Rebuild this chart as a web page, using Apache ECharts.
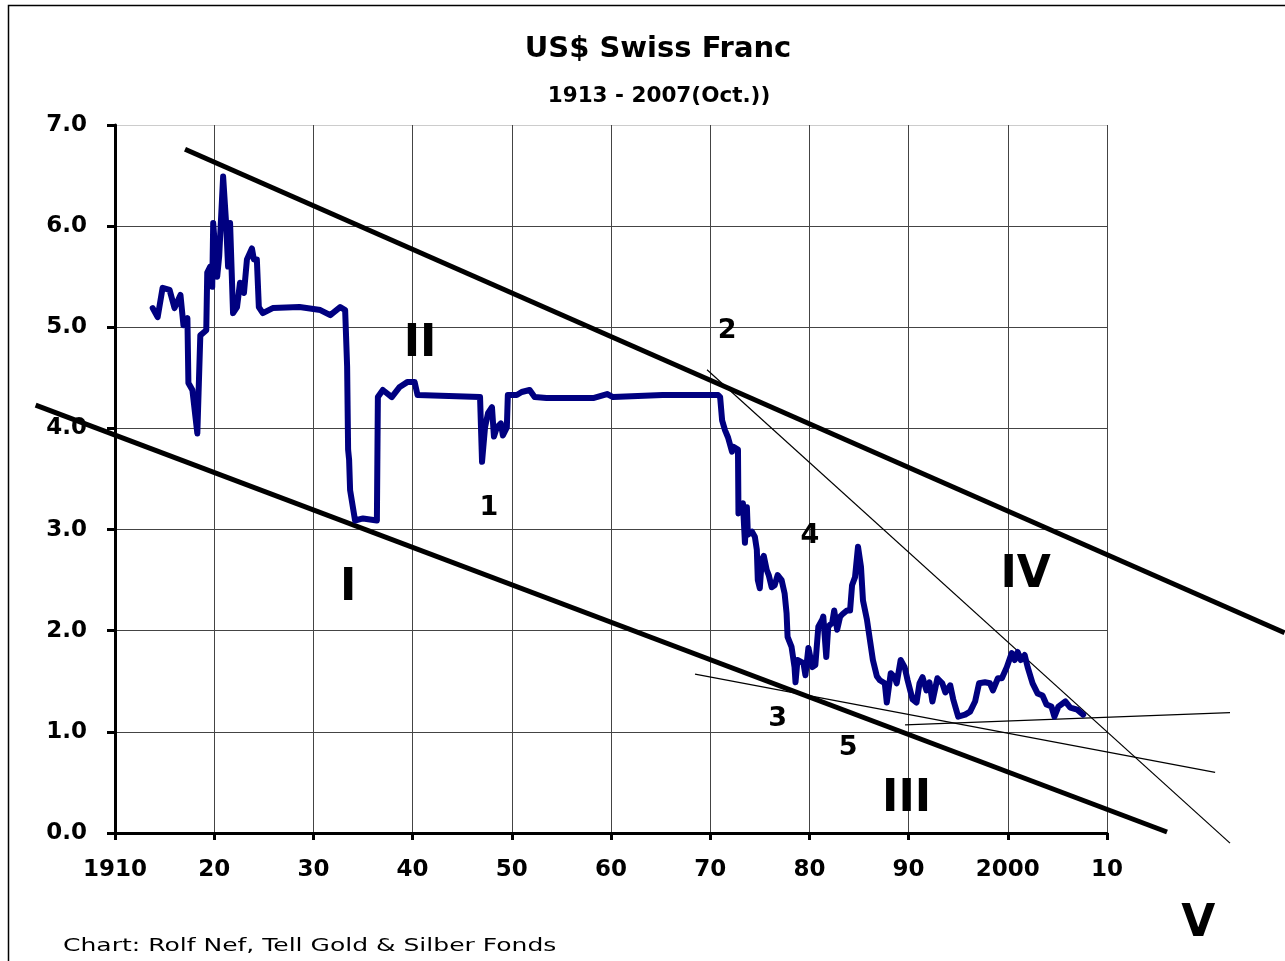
<!DOCTYPE html>
<html>
<head>
<meta charset="utf-8">
<title>US$ Swiss Franc</title>
<script src="https://cdn.jsdelivr.net/npm/echarts@6/dist/echarts.min.js"></script>
<style>
  html, body { margin: 0; padding: 0; background: #fff; }
  #chart { width: 1285px; height: 961px; }
</style>
</head>
<body>
<div id="chart"></div>
<script>
// USD/CHF
const years = [
  1913.8, 1914.3, 1914.8, 1915.5, 1916.0, 1916.6, 1916.9, 1917.3, 1917.4, 1917.8,
  1918.3, 1918.6, 1919.2, 1919.3, 1919.6, 1919.8, 1919.9, 1920.3, 1920.5, 1920.9,
  1921.2, 1921.4, 1921.6, 1921.9, 1922.3, 1922.6, 1923.0, 1923.3, 1923.8, 1924.0,
  1924.3, 1924.5, 1924.9, 1925.9, 1928.6, 1930.7, 1931.7, 1932.7, 1933.2, 1933.4,
  1933.5, 1933.6, 1933.7, 1934.2, 1935.0, 1936.4, 1936.5, 1937.0, 1937.9, 1938.7,
  1939.5, 1940.2, 1940.5, 1946.8, 1947.0, 1947.3, 1947.6, 1948.0, 1948.2, 1948.5,
  1948.9, 1949.1, 1949.5, 1949.6, 1950.5, 1951.0, 1951.8, 1952.3, 1953.5, 1958.2,
  1959.6, 1960.2, 1965.2, 1968.3, 1970.8, 1971.0, 1971.2, 1971.5, 1971.8, 1972.2,
  1972.3, 1972.8, 1972.85, 1973.3, 1973.5, 1973.7, 1973.8, 1974.2, 1974.5, 1974.7,
  1974.8, 1975.0, 1975.2, 1975.4, 1975.7, 1975.9, 1976.2, 1976.5, 1976.8, 1977.2,
  1977.5, 1977.7, 1977.8, 1978.2, 1978.5, 1978.6, 1978.8, 1979.4, 1979.6, 1979.9,
  1980.3, 1980.6, 1980.9, 1981.3, 1981.4, 1981.7, 1981.9, 1982.3, 1982.5, 1982.8,
  1983.1, 1983.4, 1983.8, 1984.1, 1984.3, 1984.6, 1984.9, 1985.2, 1985.4, 1985.8,
  1986.1, 1986.4, 1986.8, 1987.1, 1987.6, 1987.8, 1988.2, 1988.6, 1988.8, 1989.2,
  1989.6, 1989.9, 1990.4, 1990.8, 1991.1, 1991.4, 1991.8, 1992.1, 1992.4, 1992.9,
  1993.4, 1993.7, 1994.2, 1994.5, 1995.0, 1995.7, 1996.2, 1996.7, 1997.1, 1997.7,
  1998.2, 1998.5, 1999.0, 1999.4, 1999.9, 2000.4, 2000.7, 2001.0, 2001.3, 2001.7,
  2002.0, 2002.5, 2003.0, 2003.5, 2003.9, 2004.4, 2004.7, 2005.1, 2005.8, 2006.3,
  2007.0, 2007.6
]
const rates = [
  5.19, 5.10, 5.39, 5.37, 5.19, 5.32, 5.02, 5.09, 4.45, 4.38,
  3.95, 4.92, 4.97, 5.54, 5.60, 5.40, 6.03, 5.50, 5.70, 6.49,
  6.03, 5.60, 6.03, 5.14, 5.20, 5.44, 5.34, 5.67, 5.78, 5.67,
  5.67, 5.20, 5.14, 5.19, 5.20, 5.17, 5.12, 5.20, 5.17, 4.61,
  3.79, 3.69, 3.39, 3.09, 3.11, 3.09, 4.31, 4.38, 4.31, 4.41,
  4.46, 4.46, 4.33, 4.31, 3.67, 4.01, 4.15, 4.21, 3.92, 4.01,
  4.05, 3.93, 4.01, 4.33, 4.33, 4.36, 4.38, 4.31, 4.30, 4.30,
  4.34, 4.31, 4.33, 4.33, 4.33, 4.31, 4.08, 3.98, 3.91, 3.77,
  3.82, 3.79, 3.16, 3.26, 2.87, 3.22, 2.95, 2.98, 2.93, 2.80,
  2.50, 2.42, 2.70, 2.74, 2.60, 2.55, 2.43, 2.45, 2.55, 2.50,
  2.37, 2.17, 1.94, 1.84, 1.64, 1.49, 1.71, 1.68, 1.56, 1.83,
  1.64, 1.66, 2.04, 2.11, 2.14, 1.74, 2.04, 2.08, 2.20, 2.01,
  2.14, 2.17, 2.20, 2.20, 2.45, 2.53, 2.83, 2.63, 2.30, 2.11,
  1.91, 1.71, 1.55, 1.51, 1.48, 1.29, 1.58, 1.54, 1.48, 1.71,
  1.64, 1.51, 1.32, 1.29, 1.48, 1.54, 1.41, 1.49, 1.30, 1.53,
  1.48, 1.39, 1.46, 1.32, 1.15, 1.17, 1.20, 1.30, 1.48, 1.49,
  1.48, 1.41, 1.53, 1.53, 1.64, 1.78, 1.71, 1.79, 1.71, 1.76,
  1.64, 1.48, 1.38, 1.36, 1.27, 1.25, 1.15, 1.25, 1.30, 1.24,
  1.22, 1.17
]

// trend lines drawn on the chart: [[x1, y1], [x2, y2]]
const channelTop = [[1917.06, 6.76], [2027.9, 1.98]]
const channelBottom = [[1902.0, 4.23], [2016.05, 0.01]]
const thinLines = [
  [[1969.68, 4.58], [2022.4, -0.10]],
  [[1968.47, 1.57], [2020.9, 0.60]],
  [[1989.64, 1.07], [2022.4, 1.19]]
]

// wave labels: [year, value, text]
const bigLabels = [
  [1940.75, 4.83, 'II'], [1933.5, 2.42, 'I'], [2001.8, 2.55, 'IV'],
  [1989.8, 0.33, 'III'], [2019.2, -0.91, 'V']
]
const smallLabels = [
  [1971.7, 4.96, '2'], [1947.7, 3.21, '1'], [1980.06, 2.94, '4'],
  [1976.8, 1.13, '3'], [1983.9, 0.84, '5']
]

const xTicks = { 1910: '1910', 2000: '2000' }

// plot box in pixels; the overlay grid spans the whole page on the same scale
const W = 1285, H = 961
const box = { left: 115, right: 178, top: 125, bottom: 128 }
const pxYear = (W - box.left - box.right) / 100
const pxUnit = (H - box.top - box.bottom) / 7

const chart = echarts.init(document.getElementById('chart'))

const bold = 'DejaVu Sans'

function trend(pts, width) {
  return {
    type: 'line',
    xAxisIndex: 1,
    yAxisIndex: 1,
    data: pts,
    symbol: 'none',
    silent: true,
    lineStyle: { color: '#000', width: width },
    z: 3
  }
}

function labels(arr, size) {
  return {
    type: 'scatter',
    xAxisIndex: 1,
    yAxisIndex: 1,
    data: arr,
    symbolSize: 0,
    silent: true,
    itemStyle: { opacity: 1 },
    label: {
      show: true,
      position: 'inside',
      formatter: p => p.value[2],
      fontFamily: bold,
      fontWeight: 'bold',
      fontSize: size,
      color: '#000',
      opacity: 1
    },
    z: 5
  }
}

chart.setOption({
  animation: false,
  backgroundColor: '#fff',
  title: [
    {
      text: 'US$ Swiss Franc',
      left: 653, top: 30, textAlign: 'center',
      textStyle: { fontFamily: bold, fontWeight: 'bold', fontSize: 29, color: '#000' }
    },
    {
      text: '1913 - 2007(Oct.))',
      left: 654, top: 80, textAlign: 'center',
      textStyle: { fontFamily: bold, fontWeight: 'bold', fontSize: 21.5, color: '#000' }
    }
  ],
  graphic: [
    {
      type: 'rect',
      shape: { x: 8.5, y: 5.5, width: 1400, height: 1100 },
      style: { fill: null, stroke: '#000', lineWidth: 1.5 },
      silent: true
    },
    {
      type: 'text',
      left: 63, top: 937,
      scaleX: 1.39,
      style: {
        text: 'Chart: Rolf Nef, Tell Gold & Silber Fonds',
        font: '18px "DejaVu Sans"',
        fill: '#000'
      }
    }
  ],
  grid: [
    box,
    { left: 0, right: 0, top: 0, bottom: 0 }
  ],
  xAxis: [
    {
      type: 'value',
      min: 1910, max: 2010, interval: 10,
      axisLine: { show: true, onZero: false, lineStyle: { color: '#000', width: 3 } },
      axisTick: { show: true, length: 7, lineStyle: { color: '#000', width: 3 } },
      axisLabel: {
        margin: 26,
        fontFamily: bold, fontWeight: 'bold', fontSize: 23, color: '#000',
        formatter: v => xTicks[v] || String(v % 100).padStart(2, '0')
      },
      splitLine: { show: true, lineStyle: { color: '#444', width: 1 } }
    },
    {
      type: 'value',
      gridIndex: 1,
      show: false,
      min: 1910 - box.left / pxYear,
      max: 2010 + box.right / pxYear
    }
  ],
  yAxis: [
    {
      type: 'value',
      min: 0, max: 7, interval: 1,
      axisLine: { show: true, lineStyle: { color: '#000', width: 3 } },
      axisTick: { show: true, length: 8, lineStyle: { color: '#000', width: 3 } },
      axisLabel: {
        margin: 28,
        fontFamily: bold, fontWeight: 'bold', fontSize: 23, color: '#000',
        formatter: v => v.toFixed(1)
      },
      splitLine: {
        show: true,
        lineStyle: { color: ['#444', '#444', '#444', '#444', '#444', '#444', '#444', '#ccc'], width: 1 }
      }
    },
    {
      type: 'value',
      gridIndex: 1,
      show: false,
      min: -box.bottom / pxUnit,
      max: 7 + box.top / pxUnit
    }
  ],
  series: [
    {
      type: 'line',
      name: 'USD/CHF',
      data: years.map((y, i) => [y, rates[i]]),
      symbol: 'none',
      lineStyle: { color: '#000080', width: 6, join: 'round', cap: 'round' },
      z: 4
    },
    trend(channelTop, 5),
    trend(channelBottom, 5),
    ...thinLines.map(l => trend(l, 1.2)),
    labels(bigLabels, 44),
    labels(smallLabels, 27)
  ]
})
</script>
</body>
</html>
